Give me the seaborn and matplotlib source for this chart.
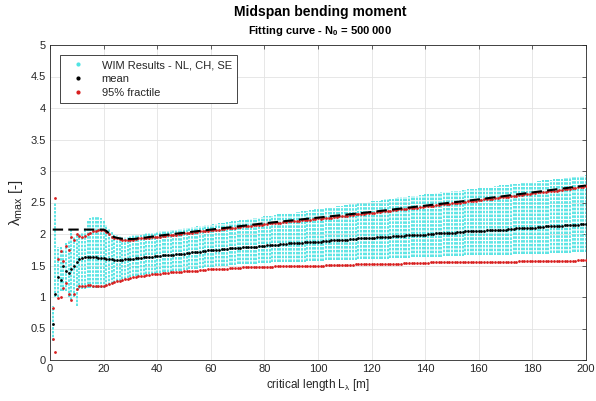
import numpy as np
import pandas as pd
import matplotlib
matplotlib.use("Agg")
import matplotlib.pyplot as plt
import seaborn as sns
from matplotlib.lines import Line2D

# ---------------- data ----------------
L = list(range(1, 201))

mean_vals = [
    0.57, 1.05, 1.31, 1.27, 1.49, 1.41, 1.38, 1.44, 1.50, 1.55,
    1.60, 1.62, 1.63, 1.63, 1.63, 1.63, 1.63, 1.62, 1.62, 1.62,
    1.61, 1.60, 1.60, 1.59, 1.59, 1.59, 1.59, 1.60, 1.60, 1.61,
    1.61, 1.62, 1.62, 1.62, 1.63, 1.63, 1.64, 1.64, 1.65, 1.65,
    1.65, 1.66, 1.66, 1.67, 1.67, 1.67, 1.68, 1.68, 1.69, 1.69,
    1.70, 1.70, 1.71, 1.71, 1.72, 1.72, 1.73, 1.73, 1.74, 1.74,
    1.74, 1.75, 1.75, 1.76, 1.76, 1.76, 1.77, 1.77, 1.78, 1.78,
    1.78, 1.79, 1.79, 1.79, 1.80, 1.80, 1.80, 1.81, 1.81, 1.81,
    1.82, 1.82, 1.82, 1.83, 1.83, 1.84, 1.84, 1.84, 1.85, 1.85,
    1.85, 1.86, 1.86, 1.86, 1.87, 1.87, 1.87, 1.88, 1.88, 1.88,
    1.88, 1.89, 1.89, 1.89, 1.90, 1.90, 1.90, 1.91, 1.91, 1.91,
    1.91, 1.92, 1.92, 1.92, 1.93, 1.93, 1.93, 1.94, 1.94, 1.94,
    1.94, 1.95, 1.95, 1.95, 1.96, 1.96, 1.96, 1.97, 1.97, 1.97,
    1.97, 1.97, 1.98, 1.98, 1.98, 1.98, 1.99, 1.99, 1.99, 1.99,
    2.00, 2.00, 2.00, 2.01, 2.01, 2.01, 2.01, 2.02, 2.02, 2.02,
    2.02, 2.03, 2.03, 2.03, 2.04, 2.04, 2.04, 2.05, 2.05, 2.05,
    2.05, 2.05, 2.06, 2.06, 2.06, 2.06, 2.07, 2.07, 2.07, 2.07,
    2.08, 2.08, 2.08, 2.09, 2.09, 2.09, 2.09, 2.10, 2.10, 2.10,
    2.10, 2.11, 2.11, 2.11, 2.12, 2.12, 2.12, 2.13, 2.13, 2.13,
    2.13, 2.14, 2.14, 2.14, 2.15, 2.15, 2.15, 2.16, 2.16, 2.16,
]

frac_upper = [
    0.82, 2.57, 1.60, 1.73, 1.57, 1.81, 1.75, 1.95, 1.90, 2.00,
    1.97, 1.95, 1.97, 2.00, 2.02, 2.04, 2.05, 2.07, 2.07, 2.06,
    2.03, 2.00, 1.96, 1.94, 1.93, 1.92, 1.91, 1.91, 1.91, 1.91,
    1.91, 1.92, 1.93, 1.93, 1.93, 1.94, 1.94, 1.95, 1.95, 1.96,
    1.96, 1.97, 1.97, 1.98, 1.98, 1.99, 1.99, 2.00, 2.00, 2.01,
    2.01, 2.02, 2.02, 2.03, 2.03, 2.04, 2.04, 2.05, 2.05, 2.06,
    2.06, 2.07, 2.07, 2.08, 2.08, 2.09, 2.09, 2.10, 2.10, 2.11,
    2.11, 2.12, 2.12, 2.13, 2.13, 2.14, 2.14, 2.15, 2.15, 2.16,
    2.16, 2.17, 2.17, 2.18, 2.18, 2.18, 2.19, 2.19, 2.20, 2.20,
    2.20, 2.21, 2.21, 2.22, 2.22, 2.23, 2.23, 2.24, 2.24, 2.25,
    2.24, 2.25, 2.25, 2.26, 2.26, 2.27, 2.27, 2.28, 2.28, 2.29,
    2.29, 2.30, 2.30, 2.31, 2.31, 2.32, 2.32, 2.33, 2.33, 2.34,
    2.34, 2.35, 2.35, 2.36, 2.36, 2.37, 2.37, 2.38, 2.38, 2.39,
    2.39, 2.40, 2.40, 2.41, 2.41, 2.42, 2.42, 2.43, 2.43, 2.44,
    2.44, 2.45, 2.45, 2.46, 2.46, 2.47, 2.47, 2.48, 2.48, 2.49,
    2.49, 2.50, 2.50, 2.51, 2.51, 2.52, 2.52, 2.53, 2.53, 2.54,
    2.54, 2.55, 2.55, 2.56, 2.56, 2.57, 2.57, 2.58, 2.58, 2.59,
    2.59, 2.60, 2.61, 2.61, 2.62, 2.62, 2.63, 2.63, 2.64, 2.65,
    2.65, 2.66, 2.66, 2.67, 2.67, 2.68, 2.68, 2.69, 2.69, 2.70,
    2.70, 2.71, 2.72, 2.72, 2.73, 2.73, 2.74, 2.74, 2.75, 2.76,
]

frac_lower = [
    0.33, 0.13, 0.98, 1.00, 1.15, 1.23, 1.05, 0.96, 1.05, 1.12,
    1.17, 1.18, 1.18, 1.19, 1.19, 1.18, 1.18, 1.17, 1.17, 1.17,
    1.19, 1.21, 1.23, 1.24, 1.25, 1.26, 1.27, 1.28, 1.29, 1.30,
    1.31, 1.32, 1.33, 1.33, 1.34, 1.35, 1.35, 1.36, 1.36, 1.37,
    1.37, 1.38, 1.38, 1.38, 1.39, 1.39, 1.40, 1.40, 1.40, 1.41,
    1.41, 1.41, 1.42, 1.42, 1.42, 1.43, 1.43, 1.43, 1.44, 1.44,
    1.44, 1.44, 1.45, 1.45, 1.45, 1.45, 1.46, 1.46, 1.46, 1.46,
    1.46, 1.47, 1.47, 1.47, 1.47, 1.47, 1.48, 1.48, 1.48, 1.48,
    1.48, 1.48, 1.48, 1.49, 1.49, 1.49, 1.49, 1.49, 1.49, 1.49,
    1.49, 1.49, 1.50, 1.50, 1.50, 1.50, 1.50, 1.50, 1.50, 1.50,
    1.50, 1.50, 1.51, 1.51, 1.51, 1.51, 1.51, 1.51, 1.51, 1.51,
    1.51, 1.51, 1.51, 1.52, 1.52, 1.52, 1.52, 1.52, 1.52, 1.52,
    1.52, 1.52, 1.53, 1.53, 1.53, 1.53, 1.53, 1.53, 1.53, 1.53,
    1.53, 1.54, 1.54, 1.54, 1.54, 1.54, 1.54, 1.54, 1.54, 1.54,
    1.54, 1.55, 1.55, 1.55, 1.55, 1.55, 1.55, 1.55, 1.55, 1.55,
    1.55, 1.55, 1.55, 1.55, 1.56, 1.56, 1.56, 1.56, 1.56, 1.56,
    1.56, 1.56, 1.56, 1.56, 1.56, 1.56, 1.56, 1.56, 1.56, 1.56,
    1.56, 1.56, 1.56, 1.56, 1.57, 1.57, 1.57, 1.57, 1.57, 1.57,
    1.57, 1.57, 1.57, 1.57, 1.57, 1.57, 1.57, 1.57, 1.57, 1.57,
    1.57, 1.57, 1.57, 1.57, 1.57, 1.57, 1.58, 1.58, 1.58, 1.58,
]

wim_upper = [
    0.85, 2.50, 1.80, 1.80, 1.75, 1.85, 1.90, 2.10, 1.95, 2.00,
    2.00, 2.02, 2.10, 2.20, 2.25, 2.27, 2.27, 2.27, 2.25, 2.22,
    2.15, 2.08, 2.03, 2.00, 1.98, 1.97, 1.96, 1.96, 1.96, 1.97,
    1.98, 1.98, 1.99, 1.99, 2.00, 2.01, 2.01, 2.02, 2.02, 2.03,
    2.04, 2.04, 2.05, 2.05, 2.06, 2.07, 2.07, 2.08, 2.08, 2.09,
    2.10, 2.10, 2.11, 2.11, 2.12, 2.13, 2.13, 2.14, 2.14, 2.15,
    2.16, 2.16, 2.17, 2.17, 2.18, 2.19, 2.19, 2.20, 2.20, 2.21,
    2.22, 2.22, 2.23, 2.24, 2.24, 2.25, 2.26, 2.26, 2.27, 2.28,
    2.28, 2.29, 2.29, 2.30, 2.31, 2.31, 2.32, 2.32, 2.33, 2.34,
    2.34, 2.35, 2.35, 2.36, 2.37, 2.37, 2.38, 2.38, 2.39, 2.40,
    2.40, 2.41, 2.41, 2.42, 2.43, 2.43, 2.44, 2.44, 2.45, 2.46,
    2.46, 2.47, 2.47, 2.48, 2.49, 2.49, 2.50, 2.50, 2.51, 2.52,
    2.52, 2.53, 2.53, 2.54, 2.55, 2.55, 2.56, 2.56, 2.57, 2.58,
    2.58, 2.59, 2.59, 2.60, 2.60, 2.61, 2.61, 2.62, 2.62, 2.63,
    2.63, 2.64, 2.64, 2.65, 2.65, 2.66, 2.66, 2.67, 2.67, 2.68,
    2.68, 2.69, 2.69, 2.70, 2.70, 2.71, 2.71, 2.72, 2.72, 2.73,
    2.73, 2.74, 2.74, 2.75, 2.75, 2.76, 2.76, 2.77, 2.77, 2.78,
    2.78, 2.79, 2.79, 2.80, 2.80, 2.81, 2.81, 2.82, 2.82, 2.83,
    2.83, 2.84, 2.84, 2.85, 2.85, 2.86, 2.86, 2.87, 2.87, 2.88,
    2.88, 2.89, 2.89, 2.90, 2.90, 2.91, 2.91, 2.92, 2.92, 2.93,
]

wim_lower = [
    0.30, 1.00, 1.00, 1.10, 1.10, 1.10, 1.00, 0.95, 1.00, 0.85,
    1.12, 1.13, 1.13, 1.14, 1.14, 1.14, 1.14, 1.14, 1.14, 1.15,
    1.17, 1.19, 1.21, 1.23, 1.25, 1.26, 1.28, 1.29, 1.30, 1.32,
    1.33, 1.33, 1.34, 1.35, 1.35, 1.36, 1.36, 1.37, 1.37, 1.38,
    1.38, 1.39, 1.39, 1.40, 1.40, 1.41, 1.41, 1.42, 1.42, 1.43,
    1.43, 1.44, 1.44, 1.45, 1.45, 1.46, 1.46, 1.47, 1.47, 1.48,
    1.48, 1.49, 1.49, 1.49, 1.50, 1.50, 1.51, 1.51, 1.51, 1.52,
    1.52, 1.52, 1.52, 1.53, 1.53, 1.53, 1.53, 1.54, 1.54, 1.54,
    1.54, 1.54, 1.55, 1.55, 1.55, 1.55, 1.55, 1.56, 1.56, 1.56,
    1.56, 1.56, 1.56, 1.56, 1.56, 1.57, 1.57, 1.57, 1.57, 1.57,
    1.57, 1.57, 1.58, 1.58, 1.58, 1.58, 1.58, 1.59, 1.59, 1.59,
    1.59, 1.59, 1.59, 1.59, 1.60, 1.60, 1.60, 1.60, 1.60, 1.60,
    1.60, 1.61, 1.61, 1.61, 1.61, 1.61, 1.62, 1.62, 1.62, 1.62,
    1.62, 1.62, 1.62, 1.62, 1.63, 1.63, 1.63, 1.63, 1.63, 1.63,
    1.63, 1.64, 1.64, 1.64, 1.64, 1.64, 1.65, 1.65, 1.65, 1.65,
    1.65, 1.65, 1.65, 1.65, 1.66, 1.66, 1.66, 1.66, 1.66, 1.66,
    1.66, 1.66, 1.66, 1.67, 1.67, 1.67, 1.67, 1.67, 1.67, 1.67,
    1.67, 1.67, 1.68, 1.68, 1.68, 1.68, 1.68, 1.68, 1.68, 1.68,
    1.68, 1.69, 1.69, 1.69, 1.69, 1.69, 1.70, 1.70, 1.70, 1.70,
    1.70, 1.70, 1.70, 1.70, 1.71, 1.71, 1.71, 1.71, 1.71, 1.71,
]

# fitting curve (dashed) – knots
fit_L = [1, 20, 21, 22, 23, 24, 25, 26, 28, 31, 35, 40, 50, 60, 70, 80,
         100, 120, 140, 160, 180, 200]
fit_vals = [2.07, 2.07, 2.05, 2.01, 1.97, 1.95, 1.94, 1.93, 1.92, 1.92, 1.94,
            1.97, 2.02, 2.07, 2.12, 2.17, 2.26, 2.35, 2.45, 2.55, 2.66, 2.77]

x_ticks = [0, 20, 40, 60, 80, 100, 120, 140, 160, 180, 200]
x_tick_labels = ["0", "20", "40", "60", "80", "100", "120", "140", "160", "180", "200"]
y_ticks = [0, 0.5, 1, 1.5, 2, 2.5, 3, 3.5, 4, 4.5, 5]
y_tick_labels = ["0", "0.5", "1", "1.5", "2", "2.5", "3", "3.5", "4", "4.5", "5"]

legend_labels = ["WIM Results - NL, CH, SE", "mean", "95% fractile"]

# ---------------- styling ----------------
sns.set_style("white")
plt.rcParams["font.family"] = ["Liberation Sans", "DejaVu Sans"]
plt.rcParams["mathtext.fontset"] = "custom"
plt.rcParams["mathtext.rm"] = "Liberation Sans"
plt.rcParams["mathtext.it"] = "Liberation Sans:italic"
plt.rcParams["mathtext.bf"] = "Liberation Sans:bold"

CYAN = "#4FE3E3"
RED = "#D81E1E"
EDGE = "#262626"

df = pd.DataFrame({
    "L": L, "mean": mean_vals, "upper": frac_upper, "lower": frac_lower,
    "wlo": wim_lower, "whi": wim_upper,
})
fit_df = pd.DataFrame({"L": fit_L, "fit": fit_vals})

fig = plt.figure(figsize=(5.96, 4.01), dpi=100)
ax = fig.add_axes([50 / 596, 41 / 401, 536 / 596, 315 / 401])

# WIM results (dense columns of points)
ax.vlines(df["L"], df["wlo"], df["whi"], colors=CYAN, linewidth=1.3,
          linestyles=(0, (1.4, 0.7)), zorder=2)

sns.scatterplot(data=df, x="L", y="upper", color=RED, s=4, linewidth=0,
                ax=ax, zorder=3, legend=False)
sns.scatterplot(data=df, x="L", y="lower", color=RED, s=4, linewidth=0,
                ax=ax, zorder=3, legend=False)
sns.scatterplot(data=df, x="L", y="mean", color="black", s=4, linewidth=0,
                ax=ax, zorder=3, legend=False)
sns.lineplot(data=fit_df, x="L", y="fit", color="black", linewidth=1.5,
             linestyle=(0, (5, 2.5)), ax=ax, zorder=4, legend=False)

ax.set_xlim(0, 200)
ax.set_ylim(0, 5)
ax.set_xticks(x_ticks)
ax.set_xticklabels(x_tick_labels)
ax.set_yticks(y_ticks)
ax.set_yticklabels(y_tick_labels)
ax.tick_params(direction="in", length=3, width=0.5, colors=EDGE,
               labelsize=8, pad=3, top=True, right=True)
ax.grid(True, color="#E3E3E3", linewidth=0.6)
ax.set_axisbelow(True)
for sp in ax.spines.values():
    sp.set_visible(True)
    sp.set_color(EDGE)
    sp.set_linewidth(0.6)

ax.set_xlabel(r"critical length L$_{\mathrm{\lambda}}$ [m]", fontsize=8.5,
              color=EDGE, labelpad=2)
ax.set_ylabel(r"$\mathrm{\lambda_{max}}$ [-]", fontsize=11, color=EDGE,
              labelpad=4)

fig.text(0.537, 1 - 12 / 401, "Midspan bending moment", ha="center",
         va="center", fontsize=10, fontweight="bold", color="black")
fig.text(0.537, 1 - 31 / 401, r"Fitting curve - N$_{\mathbf{0}}$ = 500 000",
         ha="center", va="center", fontsize=8, fontweight="bold",
         color="black")

handles = [
    Line2D([], [], marker="o", linestyle="", color=CYAN, markersize=2.0),
    Line2D([], [], marker="o", linestyle="", color="black", markersize=2.0),
    Line2D([], [], marker="o", linestyle="", color=RED, markersize=2.0),
]
leg = ax.legend(handles, legend_labels, loc="upper left",
                bbox_to_anchor=(10 / 536, 1 - 10 / 315), borderaxespad=0,
                fontsize=8, frameon=True, fancybox=False, framealpha=1,
                edgecolor=EDGE, handlelength=2.4, handletextpad=0.9,
                borderpad=0.45, labelspacing=0.35)
leg.get_frame().set_linewidth(0.6)

fig.savefig("out.png", dpi=100)
